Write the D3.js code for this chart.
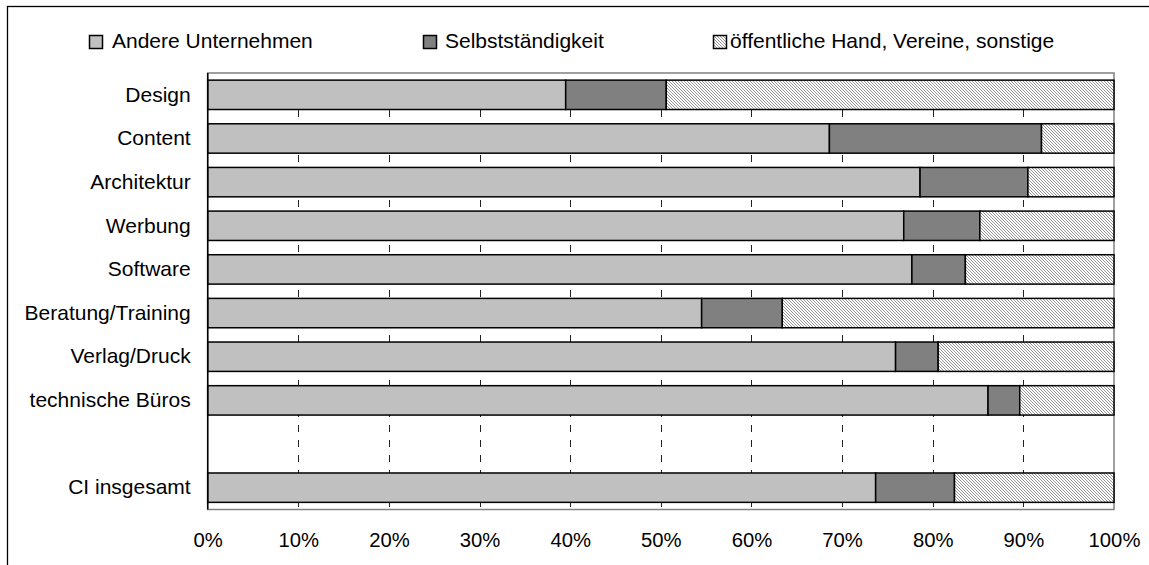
<!DOCTYPE html>
<html>
<head>
<meta charset="utf-8">
<script src="https://cdn.jsdelivr.net/npm/d3@7"></script>
<style>
  html, body { margin: 0; padding: 0; background: #fff; }
  svg { display: block; font-family: "Liberation Sans", Arial, sans-serif; }
</style>
</head>
<body>
<svg id="chart" width="1149" height="565"></svg>
<script>
// ---- data ----
const categories = ["Design", "Content", "Architektur", "Werbung", "Software",
  "Beratung/Training", "Verlag/Druck", "technische Büros", "", "CI insgesamt"];
const seriesNames = ["Andere Unternehmen", "Selbstständigkeit", "öffentliche Hand, Vereine, sonstige"];
const andereUnternehmen = [39.5, 68.6, 78.6, 76.8, 77.7, 54.5, 75.9, 86.1, null, 73.7];
const selbststaendigkeit = [11.1, 23.4, 11.9, 8.4, 5.9, 8.9, 4.7, 3.5, null, 8.7];
const oeffentlicheHand = [49.4, 8.0, 9.5, 14.8, 16.4, 36.6, 19.4, 10.4, null, 17.6];
const tickValues = [0, 10, 20, 30, 40, 50, 60, 70, 80, 90, 100];

(function () {
// ---- layout ----
const svg = d3.select("#chart");
const pLeft = 207.7, pRight = 1114, pTop = 73, pBottom = 509.5;
const fontSize = 21;
const tickFontSize = 20.3;

const rows = categories.map((c, i) => ({
  idx: i, cat: c,
  a: andereUnternehmen[i], s: selbststaendigkeit[i], o: oeffentlicheHand[i]
}));

const x = d3.scaleLinear().domain([0, 100]).range([pLeft, pRight]);
const y = d3.scaleBand().domain(rows.map(d => d.idx)).range([pTop, pBottom])
  .paddingInner(0.327).paddingOuter(0.1635);

// pattern for hatched series
const defs = svg.append("defs");
const pat = defs.append("pattern").attr("id", "hatch")
  .attr("patternUnits", "userSpaceOnUse").attr("width", 3).attr("height", 3);
pat.append("rect").attr("width", 3).attr("height", 3).attr("fill", "#ffffff");
pat.append("path").attr("d", "M-1,-1 L4,4 M-1,2 L1,4 M2,-1 L4,1")
  .attr("stroke", "#8a8a8a").attr("stroke-width", 0.9);

const fills = ["#c0c0c0", "#808080", "url(#hatch)"];

// outer frame
svg.append("rect").attr("x", 7.5).attr("y", 6.5).attr("width", 1200).attr("height", 700)
  .attr("fill", "none").attr("stroke", "#000").attr("stroke-width", 1.3);

// gridlines (dashed)
svg.append("g").selectAll("line").data(tickValues.filter(t => t > 0 && t < 100)).join("line")
  .attr("x1", d => Math.round(x(d)) + 0.5).attr("x2", d => Math.round(x(d)) + 0.5)
  .attr("y1", pTop).attr("y2", pBottom)
  .attr("stroke", "#222").attr("stroke-width", 1)
  .attr("stroke-dasharray", "7,8").attr("stroke-dashoffset", 8);

// plot area border (gray)
svg.append("rect").attr("x", pLeft).attr("y", pTop).attr("width", pRight - pLeft).attr("height", pBottom - pTop)
  .attr("fill", "none").attr("stroke", "#808080").attr("stroke-width", 1.5);

// stacked bars
const stack = d3.stack().keys(["a", "s", "o"]).value((d, k) => d[k] == null ? 0 : d[k]);
const stacked = stack(rows);
const gBars = svg.append("g");
stacked.forEach((layer, li) => {
  gBars.append("g").selectAll("rect")
    .data(layer.filter(d => d.data[layer.key] != null))
    .join("rect")
    .attr("x", d => x(d[0]))
    .attr("y", d => y(d.data.idx))
    .attr("width", d => x(d[1]) - x(d[0]))
    .attr("height", y.bandwidth())
    .attr("fill", fills[li])
    .attr("stroke", "#000").attr("stroke-width", 1.5);
});

// left axis line
svg.append("line").attr("x1", pLeft).attr("x2", pLeft).attr("y1", pTop).attr("y2", pBottom)
  .attr("stroke", "#000").attr("stroke-width", 1.5);

// category labels
const yAxis = d3.axisLeft(y).tickSize(0).tickPadding(17).tickFormat(i => categories[i]);
const gy = svg.append("g").attr("transform", `translate(${pLeft},0)`).call(yAxis);
gy.select(".domain").remove();
gy.selectAll("text").attr("font-size", fontSize).attr("fill", "#000")
  .attr("font-family", "'Liberation Sans', Arial, sans-serif");

// x tick labels
const xAxis = d3.axisBottom(x).tickValues(tickValues).tickSize(0).tickPadding(0)
  .tickFormat(d => d + "%");
const gx = svg.append("g").attr("transform", `translate(0,${pBottom})`).call(xAxis);
gx.select(".domain").remove();
gx.selectAll("text").attr("font-size", tickFontSize).attr("fill", "#000")
  .attr("dy", null).attr("y", 37)
  .attr("font-family", "'Liberation Sans', Arial, sans-serif");

// legend
const legendX = [89.5, 423.5, 713.5];
const legendTextX = [112, 445, 730];
const lg = svg.append("g");
seriesNames.forEach((n, i) => {
  lg.append("rect").attr("x", legendX[i]).attr("y", 35.5).attr("width", 13).attr("height", 13)
    .attr("fill", fills[i]).attr("stroke", "#000").attr("stroke-width", 1.5);
  lg.append("text").attr("x", legendTextX[i]).attr("y", 47.5)
    .attr("font-size", fontSize).attr("fill", "#000").text(n);
});
})();
</script>
</body>
</html>
